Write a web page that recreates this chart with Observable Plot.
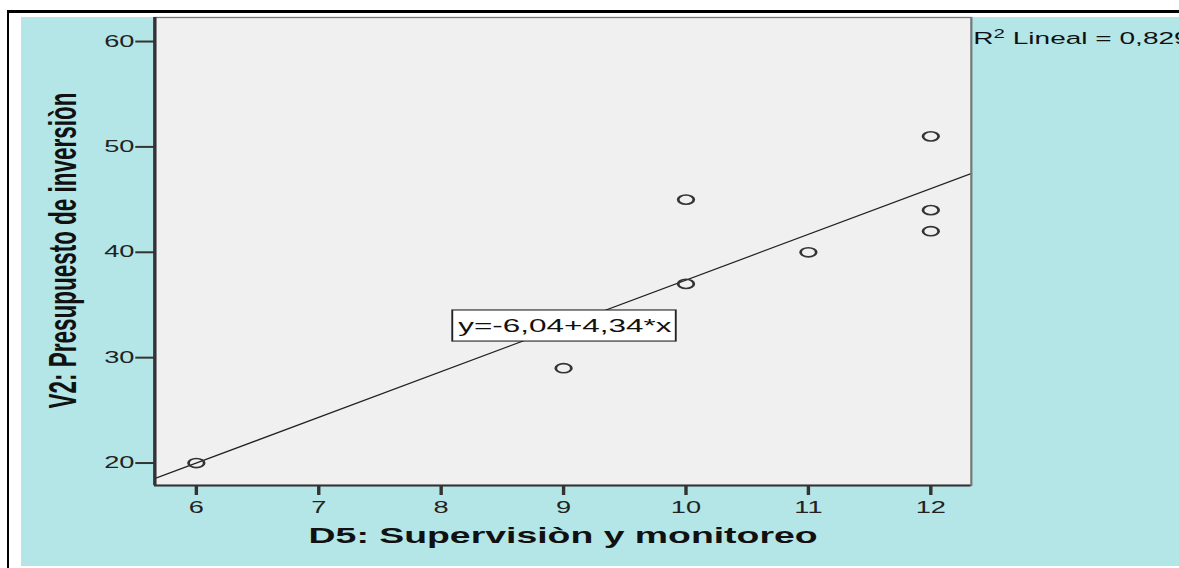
<!DOCTYPE html>
<html>
<head>
<meta charset="utf-8">
<script src="https://cdn.jsdelivr.net/npm/d3@7"></script>
<script src="https://cdn.jsdelivr.net/npm/@observablehq/plot@0.6"></script>
<style>
  html, body { margin: 0; padding: 0; background: #fff; overflow: hidden; width: 1179px; height: 568px; }
  #wrap { position: relative; width: 1179px; height: 568px; overflow: hidden; }
  #border { position: absolute; left: 7px; top: 10px; width: 1300px; height: 700px; border-left: 2px solid #000; border-top: 3px solid #000; }
  #panel { position: absolute; left: 21px; top: 17px; width: 1158px; height: 549px; background: #b4e6e8; }
  #chart { position: absolute; left: 0; top: 0; }
  #chart svg { transform-origin: 0 0; }
</style>
</head>
<body>
<div id="wrap">
  <div id="border"></div>
  <div id="panel"></div>
  <div id="chart"></div>
</div>
<script>
// ---- data ----
const supervision = [6, 9, 10, 10, 11, 12, 12, 12];          // D5
const presupuesto = [20, 29, 37, 45, 40, 42, 44, 51];        // V2
const fitIntercept = -6.04;
const fitSlope = 4.34;
const xTicks = [6, 7, 8, 9, 10, 11, 12];
const yTicks = [20, 30, 40, 50, 60];
const xDomain = [5.661, 12.331];
const yDomain = [17.87, 62.28];
const xTitle = "D5: Supervisiòn y monitoreo";
const yTitle = "V2: Presupuesto de inversiòn";
const eqLabel = "y=-6,04+4,34*x";
const eqPos = [9.01, 33.0];
const r2Parts = ["R", "2", " Lineal = 0,829"];   // R² Lineal = 0,829

// ---- build ----
const S = 1.7;               // horizontal stretch of the original picture
const W = 1179 / S;
const points = supervision.map((x, i) => ({x, y: presupuesto[i]}));
const fit = xDomain.map(x => ({x, y: fitIntercept + fitSlope * x}));
const eqData = [{x: eqPos[0], y: eqPos[1], text: eqLabel}];
const r2Label = r2Parts.join("");

const font = "'Liberation Sans', Arial, sans-serif";

const chart = Plot.plot({
  width: W,
  height: 568,
  marginLeft: 154 / S,
  marginRight: (1179 - 970.5) / S,
  marginTop: 17,
  marginBottom: 568 - 485,
  style: {background: "transparent", overflow: "visible", fontFamily: font, fontSize: "16px", color: "#222", maxWidth: "none"},
  x: {domain: xDomain},
  y: {domain: yDomain},
  marks: [
    Plot.frame({fill: "#f0f0f0"}),
    Plot.line(fit, {x: "x", y: "y", stroke: "#222", strokeWidth: 1.1}),
    Plot.dot(points, {x: "x", y: "y", r: 4.6, stroke: "#333", strokeWidth: 1.6, fill: "none"}),
    Plot.frame({stroke: "#777", strokeWidth: 1.3}),
    Plot.ruleY([yDomain[0]], {stroke: "#333", strokeWidth: 2}),
    Plot.ruleX([xDomain[0]], {stroke: "#333", strokeWidth: 2}),
    Plot.axisX({ticks: xTicks, tickFormat: d => String(d), tickSize: 10, tickPadding: 6, stroke: "#333", strokeWidth: 2, fill: "#222", fontSize: 16, label: null}),
    Plot.axisY({ticks: yTicks, tickFormat: d => String(d), tickSize: 11, tickPadding: 1, stroke: "#333", strokeWidth: 2, fill: "#222", fontSize: 16, label: null}),
    Plot.text(eqData, {x: "x", y: "y", text: "text", fontSize: 18.5, fill: "#111"}),
    Plot.text([yTitle], {frameAnchor: "left", textAnchor: "middle", rotate: -90, dx: (63 - 154) / S, dy: -1, fontWeight: "bold", fontSize: 22.5, fill: "#111"}),
    Plot.text([xTitle], {frameAnchor: "bottom", dy: 58, fontWeight: "bold", fontSize: 22, fill: "#111"}),
    Plot.text([r2Label], {frameAnchor: "top-right", textAnchor: "start", dx: 2 / S, dy: 15, fontSize: 16.5, fill: "#111"})
  ]
});
chart.style.transformOrigin = "0 0";
chart.style.transform = `scaleX(${S})`;
document.getElementById("chart").appendChild(chart);

const NS = "http://www.w3.org/2000/svg";
for (const t of chart.querySelectorAll("text")) {
  // white box behind the equation label
  if (t.textContent === eqLabel) {
    const bb = t.getBBox();
    const r = document.createElementNS(NS, "rect");
    r.setAttribute("x", bb.x - 3.5);
    r.setAttribute("y", bb.y - 5.5);
    r.setAttribute("width", bb.width + 6);
    r.setAttribute("height", bb.height + 11);
    r.setAttribute("fill", "#fff");
    r.setAttribute("stroke", "#222");
    r.setAttribute("stroke-width", 1.1);
    if (t.getAttribute("transform")) r.setAttribute("transform", t.getAttribute("transform"));
    t.parentNode.insertBefore(r, t);
  }
  // superscript 2 in the R² label
  if (t.textContent === r2Label) {
    t.textContent = "";
    const a = document.createElementNS(NS, "tspan");
    a.textContent = r2Parts[0];
    const b = document.createElementNS(NS, "tspan");
    b.textContent = r2Parts[1];
    b.setAttribute("font-size", "12");
    b.setAttribute("dy", "-6");
    const c = document.createElementNS(NS, "tspan");
    c.textContent = r2Parts[2];
    c.setAttribute("dy", "6");
    t.append(a, b, c);
  }
}
</script>
</body>
</html>
